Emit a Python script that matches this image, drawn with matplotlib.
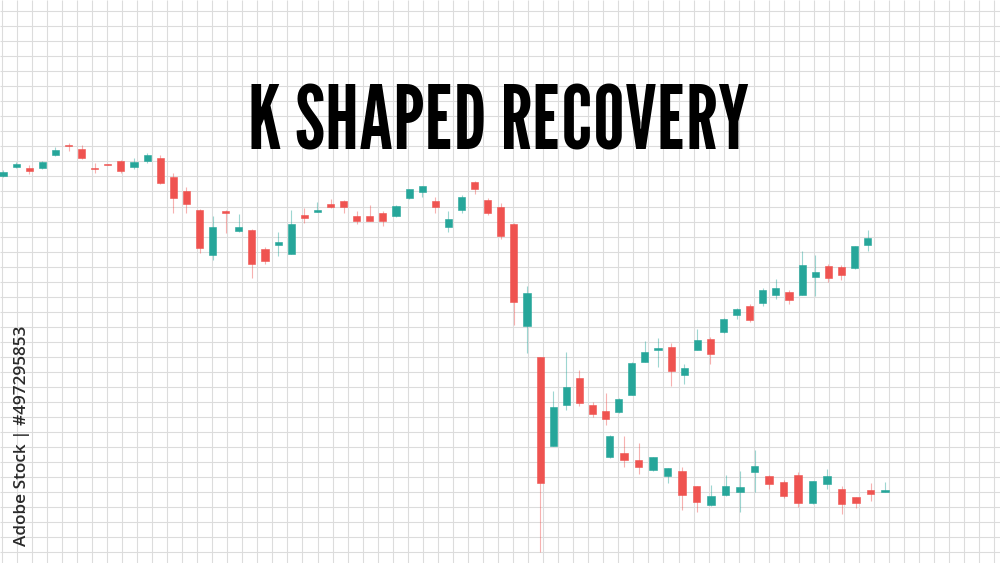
import matplotlib
matplotlib.use("Agg")
import matplotlib.pyplot as plt
import numpy as np

# main series: crash then the upper arm of the K (one candle per step)
main_open = [387, 396.3, 395, 394.7, 408.3, 417.8, 414, 395.2, 398.8, 402,
             396.3, 402, 405.3, 386, 372.3, 353, 307.7, 351.7, 331.7, 333.3,
             313.7, 318.3, 309.3, 348.3, 351, 359, 361.7, 346.7, 346.7, 349.7,
             346.7, 364.7, 370.7, 361.7, 336.3, 353, 381, 363, 355.7, 339.3,
             237.3, 206, 117.3, 158.2, 185,
             158, 152.3, 150.7, 168.3, 201.5, 213.3, 216.3, 188.2, 213.5, 224.3,
             230.7, 248.3, 256.7, 259.7, 268.3, 270.7, 268.3, 286.3, 296.7, 296,
             295, 317.7]
main_high = [393, 401, 398.3, 402, 416.3, 420.3, 418, 400, 398.8, 403,
             405, 410, 408, 390, 376, 354, 347, 353, 348.7, 334,
             316.3, 331, 353, 354.7, 361, 364, 363, 352.3, 358, 352,
             358, 374.5, 377.5, 365.7, 352, 368.3, 382, 365.3, 359.7, 340,
             277, 206, 172, 210.7, 193,
             161, 169.7, 165, 201, 221.7, 225, 220.3, 199.4, 233.7, 226.3,
             245, 255, 258.7, 274.7, 283.7, 273, 312, 308, 299, 298.3,
             317.5, 333]
main_low = [386, 395, 389, 394, 407.5, 412.3, 404, 390, 397.8, 390.5,
            394, 400, 379, 350.3, 350, 310.3, 303, 330, 331, 284.7,
            298.7, 307.3, 309, 339.7, 350.7, 355.3, 350.3, 339, 342, 337,
            346, 364, 365.7, 350.3, 331.3, 350.3, 368.7, 347.7, 323.7, 238,
            209.7, 11.3, 117, 152.8, 157,
            145.7, 137.7, 150, 168, 201, 196.3, 177, 179.4, 213, 199,
            230, 244, 241.3, 257.3, 264.3, 259, 268, 266.7, 280.7, 283,
            294.5, 312.3]
main_close = [391.3, 399.3, 392, 401, 413, 416.8, 405, 394.2, 397.8, 391.7,
              400.7, 408.3, 379.7, 364.7, 359, 315.3, 336.3, 350.3, 336.3, 298.7,
              302, 321.3, 339.3, 345.3, 353, 356, 356, 342, 342, 342,
              357.3, 373.7, 377, 356, 343.7, 366.3, 374, 349.7, 327.3, 261.3,
              270.3, 80.3, 156.5, 176, 159.7,
              149, 144.3, 164, 200, 210.7, 214.7, 192.5, 195.5, 222.7, 208.8,
              244, 254.3, 243.3, 272.7, 275.3, 263.3, 298.3, 291.3, 284.7, 288.3,
              316.7, 325.3]

# lower arm of the K
low_open = [106, 110, 103, 92.7, 87.3, 91.7, 77, 58, 68, 70.7,
            91, 87.3, 81, 88.3, 60, 79, 74.3, 66, 72.7, 71.3]
low_high = [128, 127.3, 120.3, 106.5, 95.5, 96, 77.5, 78, 87.7, 92.3,
            113, 88, 83, 91.3, 82, 94.3, 77, 66.5, 79.7, 81.3]
low_low = [105.5, 96, 89, 92, 79.7, 53, 51.3, 57.5, 67.5, 51.3,
           71.3, 74, 64.7, 56.3, 59.5, 74, 49, 54.7, 62.3, 71.3]
low_close = [127.3, 102.7, 95.7, 106, 95, 68.3, 61.3, 67, 77, 76,
             96.7, 79.3, 67.3, 60, 81.7, 87, 59.3, 60, 69.3, 73]

title = "K SHAPED RECOVERY"
credit = "Adobe Stock | #497295853"

RED = "#ef5350"
GREEN = "#26a69a"


def draw_candles(ax, o, h, l, c, width):
    """draw wicks and bodies, colour from direction"""
    o, h, l, c = map(np.asarray, (o, h, l, c))
    x = np.arange(len(o))
    colors = np.where(c >= o, GREEN, RED)
    ax.vlines(x, l, h, colors=colors, linewidth=0.8, alpha=0.45, zorder=2)
    body = np.maximum(np.abs(c - o), 1.2)
    ax.bar(x, body, bottom=np.minimum(o, c), width=width, color=colors,
           edgecolor=colors, linewidth=0.4, zorder=3)


fig = plt.figure(figsize=(10, 5.63), dpi=100)

# paper grid in pixel units
bg = fig.add_axes([0, 0, 1, 1])
bg.set_xlim(0, 1000)
bg.set_ylim(563, 0)
bg.vlines(np.arange(1.7, 1000, 15.04), 0, 563, color="#dcdcdc", linewidth=0.8)
bg.hlines(np.arange(11, 563, 15.04), 0, 1000, color="#dcdcdc", linewidth=0.8)
bg.axis("off")

ax = fig.add_axes([0, 0, 1, 1])
ax.patch.set_alpha(0)
ax.set_xlim(-3 / 13.1, 997 / 13.1)
ax.set_ylim(0, 563)
ax.axis("off")
draw_candles(ax, main_open, main_high, main_low, main_close, 0.54)

ax2 = ax.twiny()
ax2.set_xlim(-609.5 / 14.5, (1000 - 609.5) / 14.5)
ax2.axis("off")
draw_candles(ax2, low_open, low_high, low_low, low_close, 0.49)

fig.text(0.499, 1 - 150 / 563, title, family="League Gothic", fontsize=64,
         ha="center", va="baseline", color="black")
fig.text(0.022, 1 - 436 / 563, credit, family="Open Sans", fontsize=12.3,
         weight="semibold", rotation=90, ha="center", va="center",
         color="#2a2a2a")

fig.savefig("out.png", dpi=100)
